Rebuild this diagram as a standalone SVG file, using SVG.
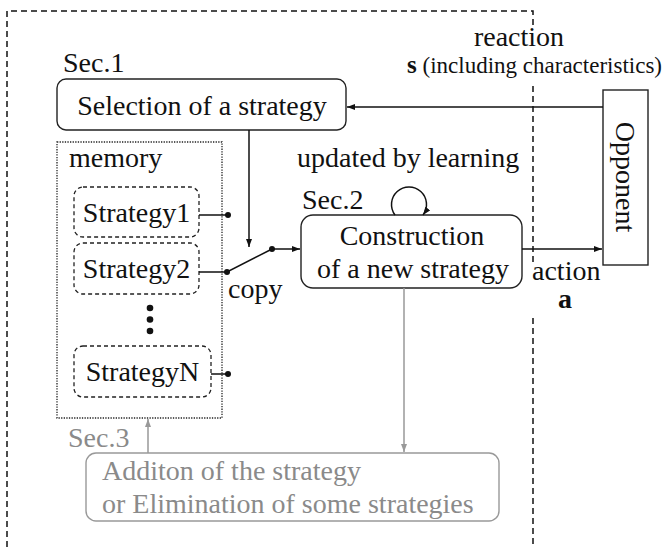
<svg xmlns="http://www.w3.org/2000/svg" width="664" height="547" viewBox="0 0 664 547">
<style>
text{font-family:"Liberation Serif","Times New Roman",serif;font-size:28px;fill:#111}
.g{fill:#8a8a8a}
.box{fill:#fff;stroke:#222;stroke-width:1.4}
.sbox{fill:none;stroke:#222;stroke-width:1.3;stroke-dasharray:4 3}
.mem{fill:none;stroke:#222;stroke-width:1.3;stroke-dasharray:1.3 1.3}
.outer{fill:none;stroke:#111;stroke-width:1.5;stroke-dasharray:6 4}
.ln{fill:none;stroke:#111;stroke-width:1.5}
.gl{fill:none;stroke:#999;stroke-width:1.5}
.dot{fill:#111}
</style>
<defs>
<marker id="ah" markerWidth="9" markerHeight="7" refX="8" refY="3" orient="auto" markerUnits="userSpaceOnUse"><path d="M0,0 L8,3 L0,6 z" fill="#111"/></marker>
<marker id="ahg" markerWidth="9" markerHeight="7" refX="8" refY="3" orient="auto" markerUnits="userSpaceOnUse"><path d="M0,0 L8,3 L0,6 z" fill="#999"/></marker>
</defs>

<g id="outer-frame">
<path class="outer" d="M7,547 V11 H533 V25"/>
<path class="outer" d="M533,86 V262"/>
<path class="outer" d="M533,318 V547"/>
</g>

<g id="selection">
<text x="63" y="72">Sec.1</text>
<rect class="box" x="57" y="79" width="289" height="51" rx="9"/>
<text x="202" y="115" text-anchor="middle">Selection of a strategy</text>
</g>

<g id="memory">
<rect class="mem" x="57" y="142" width="165" height="276"/>
<text x="69" y="167">memory</text>
</g>

<g id="strategy1">
<rect class="sbox" x="74" y="187" width="125" height="50" rx="9"/>
<text x="136.5" y="222" text-anchor="middle">Strategy1</text>
</g>
<g id="strategy2">
<rect class="sbox" x="74" y="243" width="125" height="51" rx="9"/>
<text x="136.5" y="278" text-anchor="middle">Strategy2</text>
</g>
<g id="ellipsis">
<circle class="dot" cx="150" cy="308" r="3.3"/>
<circle class="dot" cx="150" cy="319.5" r="3.3"/>
<circle class="dot" cx="150" cy="331" r="3.3"/>
</g>
<g id="strategyN">
<rect class="sbox" x="74" y="346" width="137" height="51" rx="9"/>
<text x="142.5" y="381" text-anchor="middle">StrategyN</text>
</g>

<g id="construction">
<text x="302" y="209">Sec.2</text>
<text x="297" y="167">updated by learning</text>
<rect class="box" x="301" y="215" width="221" height="73" rx="12"/>
<text x="412" y="245" text-anchor="middle">Construction</text>
<text x="413" y="278" text-anchor="middle">of a new strategy</text>
</g>

<g id="opponent">
<rect class="box" x="603" y="90" width="45" height="175"/>
<text transform="translate(616,177) rotate(90)" text-anchor="middle">Opponent</text>
</g>

<g id="sec3">
<text class="g" x="68" y="447">Sec.3</text>
<rect x="86" y="453" width="413" height="68" rx="10" fill="#fff" stroke="#999" stroke-width="1.4"/>
<text class="g" x="102" y="480">Additon of the strategy</text>
<text class="g" x="102" y="513">or Elimination of some strategies</text>
</g>

<g id="labels">
<text x="519" y="46" text-anchor="middle">reaction</text>
<text x="662" y="73" text-anchor="end" style="font-size:23px"><tspan style="font-weight:bold;font-size:25px">s</tspan> (including characteristics)</text>
<text x="532" y="280">action</text>
<text x="565" y="308" text-anchor="middle" style="font-weight:bold">a</text>
<text x="228" y="298">copy</text>
</g>

<g id="connectors">
<path class="ln" d="M603,107 H347" marker-end="url(#ah)"/>
<path class="ln" d="M249,130 V247" marker-end="url(#ah)"/>
<path class="ln" d="M199,215 H228"/>
<circle class="dot" cx="228" cy="215" r="3"/>
<path class="ln" d="M199,272 H227 L272,249"/>
<circle class="dot" cx="227" cy="272" r="3"/>
<circle class="dot" cx="272" cy="249" r="3"/>
<path class="ln" d="M272,249 H300" marker-end="url(#ah)"/>
<path class="ln" d="M211,374 H228"/>
<circle class="dot" cx="228" cy="374" r="3"/>
<path class="ln" d="M522,249 H602" marker-end="url(#ah)"/>
<path class="ln" d="M395,215 A17.5,17.5 0 1 1 423,215" marker-end="url(#ah)"/>
<path class="gl" d="M404,288 V452" marker-end="url(#ahg)"/>
<path class="gl" d="M148,453 V419" marker-end="url(#ahg)"/>
</g>
</svg>
